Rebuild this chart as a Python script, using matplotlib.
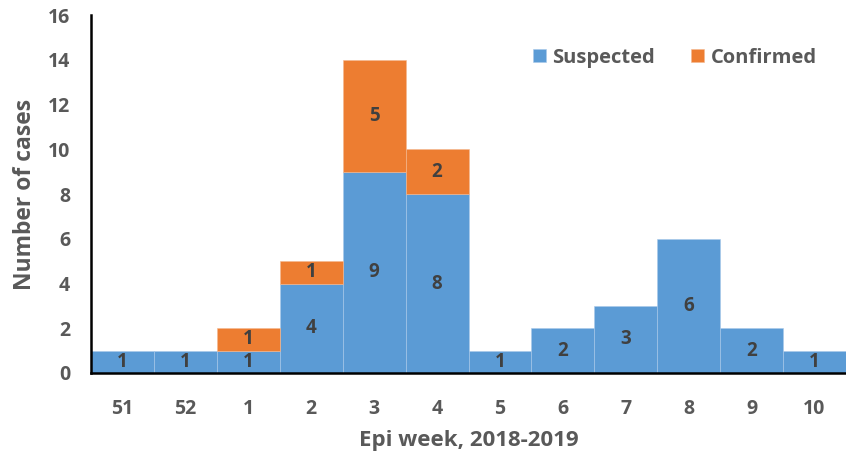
import numpy as np
from matplotlib import pyplot as plt

weeks = ['51', '52', '1', '2', '3', '4', '5', '6', '7', '8', '9', '10']
suspected = [1, 1, 1, 4, 9, 8, 1, 2, 3, 6, 2, 1]
confirmed = [0, 0, 1, 1, 5, 2, 0, 0, 0, 0, 0, 0]

blue = '#5B9BD5'
orange = '#ED7D31'
grey = '#595959'

plt.rcParams['font.family'] = ['Open Sans', 'DejaVu Sans']
plt.rcParams['font.weight'] = 'bold'

fig = plt.figure(figsize=(8.46, 4.58), dpi=100)
ax = fig.add_axes([0.1076, 0.1856, 0.8924, 0.7814])

x = np.arange(len(weeks))
# skip empty confirmed segments so no stray edges are drawn
conf_h = [c if c > 0 else np.nan for c in confirmed]
ax.bar(x, suspected, width=1.0, color=blue, edgecolor='#A9C9EA',
       linewidth=0.4, label='Suspected')
ax.bar(x, conf_h, width=1.0, bottom=suspected, color=orange,
       edgecolor='#F4B890', linewidth=0.4, label='Confirmed')

# value labels in the middle of each segment
for i in range(len(weeks)):
    s = suspected[i]
    c = confirmed[i]
    if s > 0:
        ax.text(x[i], s / 2, str(s), ha='center', va='center',
                fontsize=13.5, fontweight='bold', color='#404040')
    if c > 0:
        ax.text(x[i], s + c / 2, str(c), ha='center', va='center',
                fontsize=13.5, fontweight='bold', color='#404040')

ax.set_xlim(-0.5, len(weeks) - 0.5)
ax.set_ylim(0, 16)
ax.set_yticks(range(0, 17, 2))
ax.set_xticks(x)
ax.set_xticklabels(weeks)
ax.tick_params(axis='both', length=0, labelsize=14, colors=grey)
ax.tick_params(axis='y', pad=15)
ax.tick_params(axis='x', pad=19)
for lab in ax.get_xticklabels() + ax.get_yticklabels():
    lab.set_fontweight('bold')

for side in ['top', 'right']:
    ax.spines[side].set_visible(False)
ax.spines['left'].set_linewidth(1.8)
ax.spines['bottom'].set_linewidth(1.8)
ax.spines['left'].set_zorder(5)
ax.spines['bottom'].set_zorder(5)

ax.set_xlabel('Epi week, 2018-2019', fontsize=16, fontweight='bold',
              color=grey, labelpad=8)
ax.set_ylabel('Number of cases', fontsize=16.5, fontweight='bold',
              color=grey, labelpad=8)

leg = ax.legend(loc='upper right', bbox_to_anchor=(0.985, 0.96), ncol=2,
                frameon=False, fontsize=14.5, handlelength=0.65,
                handleheight=0.65, handletextpad=0.3, columnspacing=1.8)
for t in leg.get_texts():
    t.set_color(grey)
    t.set_fontweight('bold')

fig.savefig('out.png', dpi=100)
